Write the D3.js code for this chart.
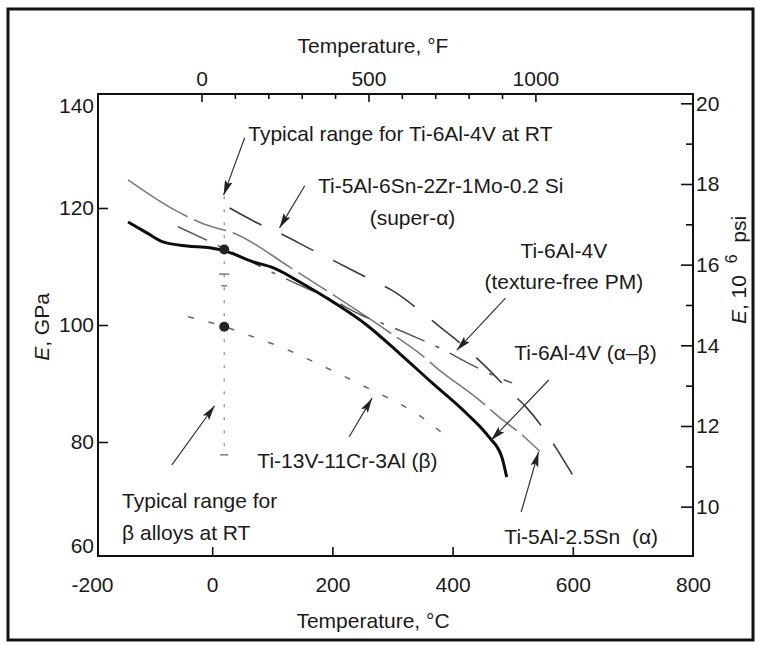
<!DOCTYPE html>
<html><head><meta charset="utf-8">
<script src="https://cdn.jsdelivr.net/npm/d3@7"></script>
<style>
body{margin:0;background:#fff}
svg{display:block}
text{font-family:'Liberation Sans',Arial,Helvetica,sans-serif;fill:#1a1a1a;white-space:pre}
</style>
</head><body><svg id="c" width="762" height="648"></svg>
<script>
// ---------------- data ----------------
const xTicksC = [-200, 0, 200, 400, 600, 800];
const xTickMarksC = [0, 200, 400, 600];
const xTicksF = [0, 500, 1000];
const xMinorF = [100, 200, 300, 400, 600, 700, 800, 900];
const yTicksGPa = [60, 80, 100, 120, 140];
const yTickMarksGPa = [80, 100, 120];
const yTicksPsi = [10, 12, 14, 16, 18, 20];
const yMinorPsi = [11, 13, 15, 17, 19];

// Ti-6Al-4V (alpha-beta), solid
const abT = [-140, -108, -82, -42, -4, 17, 68, 101, 145, 200, 257, 311, 366, 422, 460, 482, 490];
const abE = [117.6, 115.7, 114.2, 113.5, 113.2, 112.8, 110.8, 109.8, 107.4, 104.0, 100.0, 95.2, 90.1, 85.0, 80.9, 77.4, 74.0];
// Ti-5Al-2.5Sn (alpha)
const aT = [-140, -65, -17, 43, 129, 220, 290, 348, 378, 444, 477, 519, 545];
const aE = [124.8, 119.8, 117.4, 115.4, 109.9, 103.9, 99.1, 94.9, 92.3, 87.2, 84.3, 80.9, 78.4];
// Ti-5Al-6Sn-2Zr-1Mo-0.2Si (super-alpha)
const saT = [29, 76, 112, 167, 200, 265, 298, 350, 381, 416, 456, 497, 522, 555, 572, 602];
const saE = [120.0, 117.4, 115.7, 112.8, 111.1, 107.7, 106.0, 102.1, 99.5, 96.6, 92.8, 88.5, 86.0, 81.7, 79.0, 74.0];
// Ti-6Al-4V texture-free PM
const pmT = [-57, -9, 50, 100, 150, 200, 248, 290, 341, 378, 422, 474, 499];
const pmE = [116.8, 114.5, 111.6, 109.0, 106.6, 104.3, 101.7, 100.0, 97.8, 96.1, 93.7, 91.1, 90.1];
// Ti-13V-11Cr-3Al (beta)
const bT = [-40, 21, 51, 84, 129, 167, 212, 265, 316, 348, 383];
const bE = [101.4, 99.7, 98.6, 97.4, 95.6, 93.8, 91.6, 88.9, 86.3, 84.3, 81.5];

// room-temperature typical ranges
const rtT = 20;
const rtTopE = 122, rtBottomE = 77.8;
const rtCapsE = [108.7, 106.7, 77.8];
const rtCapW = [10, 6, 8];
const rtDotsE = [112.9, 99.7];

// annotations (data coords: °C, GPa)
const labels = [
  {t: "Typical range for Ti-6Al-4V at RT", x: 60, y: 131.4, a: "start"},
  {t: "Ti-5Al-6Sn-2Zr-1Mo-0.2 Si", x: 176, y: 122.6, a: "start"},
  {t: "(super-α)", x: 262, y: 117.1, a: "start"},
  {t: "Ti-6Al-4V", x: 585, y: 111.5, a: "middle"},
  {t: "(texture-free PM)", x: 585, y: 106.1, a: "middle"},
  {t: "Ti-6Al-4V (α–β)", x: 621, y: 94.1, a: "middle"},
  {t: "Ti-13V-11Cr-3Al (β)", x: 225, y: 75.6, a: "middle"},
  {t: "Typical range for", x: -150, y: 68.8, a: "start"},
  {t: "β alloys at RT", x: -150, y: 63.3, a: "start"},
  {t: "Ti-5Al-2.5Sn  (α)", x: 614, y: 62.6, a: "middle"}
];
const arrows = [
  [54, 132.0, 19, 122.2],
  [154, 123.8, 112, 116.6],
  [488, 104.6, 407, 95.7],
  [560, 90.6, 464, 80.3],
  [228, 80.9, 266, 87.5],
  [-67, 76.1, 4, 86.2],
  [514, 68.0, 543, 78.3]
];

// ---------------- layout ----------------
const FS = 21;
const svg = d3.select('#c');
const box = {l: 98, r: 693, t: 94, b: 556};
const x = d3.scaleLinear().domain([-200, 800]).range([92, 693]);
const y = d3.scaleLinear().domain([60, 140]).range([559, 91]);
const f2c = f => (f - 32) * 5 / 9;
const xFf = d3.scaleLinear().domain([0, 1000]).range([x(f2c(0)), x(f2c(1000))]);
const GPA_PER_MSI = 1 / 0.145038;
const yP = d3.scaleLinear().domain([10, 20]).range([y(10 * GPA_PER_MSI), y(20 * GPA_PER_MSI)]);

// outer frame
svg.append('rect').attr('x', 8).attr('y', 9).attr('width', 745).attr('height', 631)
  .attr('fill', 'none').attr('stroke', '#111').attr('stroke-width', 3);

// plot box
svg.append('rect').attr('x', box.l).attr('y', box.t).attr('width', box.r - box.l).attr('height', box.b - box.t)
  .attr('fill', 'none').attr('stroke', '#111').attr('stroke-width', 2);

function clean(g) { g.select('.domain').remove(); g.selectAll('line').attr('stroke', '#111').attr('stroke-width', 1.6); g.selectAll('text').attr('font-size', FS).attr('font-family', null).attr('fill', '#1a1a1a'); }

// bottom
svg.append('g').attr('transform', `translate(0,${box.b})`)
  .call(d3.axisBottom(x).tickValues(xTickMarksC).tickSizeInner(-9).tickSizeOuter(0).tickFormat(''))
  .call(clean);
svg.append('g').attr('transform', `translate(0,${box.b})`)
  .call(d3.axisBottom(x).tickValues(xTicksC).tickSize(0).tickPadding(21).tickFormat(d => String(d)))
  .call(clean).call(g => g.selectAll('line').remove());

// top
svg.append('g').attr('transform', `translate(0,${box.t})`)
  .call(d3.axisTop(xFf).tickValues(xTicksF).tickSizeInner(-8).tickSizeOuter(0).tickFormat(''))
  .call(clean);
svg.append('g').attr('transform', `translate(0,${box.t})`)
  .call(d3.axisTop(xFf).tickValues(xMinorF).tickSizeInner(-5).tickSizeOuter(0).tickFormat(''))
  .call(clean);
svg.append('g').attr('transform', `translate(0,${box.t})`)
  .call(d3.axisTop(xFf).tickValues(xTicksF).tickSize(0).tickPadding(8).tickFormat(d => String(d)))
  .call(clean).call(g => g.selectAll('line').remove());

// left
svg.append('g').attr('transform', `translate(${box.l},0)`)
  .call(d3.axisLeft(y).tickValues(yTickMarksGPa).tickSizeInner(-10).tickSizeOuter(0).tickFormat(''))
  .call(clean);
svg.append('g').attr('transform', `translate(${box.l},0)`)
  .call(d3.axisLeft(y).tickValues(yTicksGPa).tickSize(0).tickPadding(4).tickFormat(d => String(d)))
  .call(clean).call(g => {
    g.selectAll('line').remove();
    g.selectAll('.tick').filter(d => d === 140).select('text').attr('dy', '1.0em');
    g.selectAll('.tick').filter(d => d === 60).select('text').attr('dy', '-0.3em');
  });

// right
svg.append('g').attr('transform', `translate(${box.r},0)`)
  .call(d3.axisRight(yP).tickValues(yTicksPsi).tickSizeInner(-12).tickSizeOuter(0).tickFormat(''))
  .call(clean);
svg.append('g').attr('transform', `translate(${box.r},0)`)
  .call(d3.axisRight(yP).tickValues(yMinorPsi).tickSizeInner(-7).tickSizeOuter(0).tickFormat(''))
  .call(clean);
svg.append('g').attr('transform', `translate(${box.r},0)`)
  .call(d3.axisRight(yP).tickValues(yTicksPsi).tickSize(0).tickPadding(3).tickFormat(d => String(d)))
  .call(clean).call(g => g.selectAll('line').remove());

// axis titles
svg.append('text').attr('x', 373).attr('y', 53).attr('text-anchor', 'middle')
  .attr('font-size', FS).text('Temperature, °F');
svg.append('text').attr('x', 373).attr('y', 628).attr('text-anchor', 'middle')
  .attr('font-size', FS).text('Temperature, °C');
const yl = svg.append('text').attr('transform', `translate(49,${(box.t + box.b) / 2 + 2}) rotate(-90)`)
  .attr('text-anchor', 'middle').attr('font-size', FS);
yl.append('tspan').attr('font-style', 'italic').text('E');
yl.append('tspan').text(', GPa');
const yr = svg.append('text').attr('transform', `translate(746,270) rotate(-90)`)
  .attr('text-anchor', 'middle').attr('font-size', FS);
yr.append('tspan').attr('font-style', 'italic').text('E');
yr.append('tspan').text(', 10  ');
yr.append('tspan').attr('font-size', 16).attr('dy', -9).text('6');
yr.append('tspan').attr('dy', 9).text('  psi');

// ---------------- curves ----------------
const line = d3.line().x(d => x(d[0])).y(d => y(d[1])).curve(d3.curveMonotoneX);
const zip = (a, b) => a.map((v, i) => [v, b[i]]);
const g = svg.append('g');

g.append('path').datum(zip(aT, aE)).attr('d', line).attr('fill', 'none')
  .attr('stroke', '#7a7a7a').attr('stroke-width', 1.6).attr('stroke-dasharray', '70,7,34,7');
g.append('path').datum(zip(saT, saE)).attr('d', line).attr('fill', 'none')
  .attr('stroke', '#3a3a3a').attr('stroke-width', 1.6).attr('stroke-dasharray', '36,22');
g.append('path').datum(zip(pmT, pmE)).attr('d', line).attr('fill', 'none')
  .attr('stroke', '#555').attr('stroke-width', 1.5).attr('stroke-dasharray', '32,12,4,12');
g.append('path').datum(zip(bT, bE)).attr('d', line).attr('fill', 'none')
  .attr('stroke', '#666').attr('stroke-width', 1.5).attr('stroke-dasharray', '6,15');
g.append('path').datum(zip(abT, abE)).attr('d', line).attr('fill', 'none')
  .attr('stroke', '#0d0d0d').attr('stroke-width', 3);

// RT ranges
g.append('line').attr('x1', x(rtT)).attr('x2', x(rtT)).attr('y1', y(rtTopE)).attr('y2', y(rtBottomE))
  .attr('stroke', '#888').attr('stroke-width', 1.2).attr('stroke-dasharray', '3,10');
rtCapsE.forEach((e, i) => g.append('line').attr('x1', x(rtT) - rtCapW[i] / 2).attr('x2', x(rtT) + rtCapW[i] / 2)
  .attr('y1', y(e)).attr('y2', y(e)).attr('stroke', '#666').attr('stroke-width', 1.3));
rtDotsE.forEach(e => g.append('circle').attr('cx', x(rtT)).attr('cy', y(e)).attr('r', 5).attr('fill', '#222'));

// arrows
const defs = svg.append('defs');
defs.append('marker').attr('id', 'ah').attr('markerUnits', 'userSpaceOnUse')
  .attr('markerWidth', 16).attr('markerHeight', 10).attr('refX', 15).attr('refY', 4)
  .attr('orient', 'auto').append('path').attr('d', 'M0,0 L15,4 L0,8 L3,4 Z').attr('fill', '#222');
arrows.forEach(a => svg.append('line').attr('x1', x(a[0])).attr('y1', y(a[1])).attr('x2', x(a[2])).attr('y2', y(a[3]))
  .attr('stroke', '#333').attr('stroke-width', 1.2).attr('marker-end', 'url(#ah)'));

// labels
labels.forEach(l => svg.append('text').attr('x', x(l.x)).attr('y', y(l.y)).attr('text-anchor', l.a)
  .attr('font-size', FS).text(l.t));
</script>
</body></html>
